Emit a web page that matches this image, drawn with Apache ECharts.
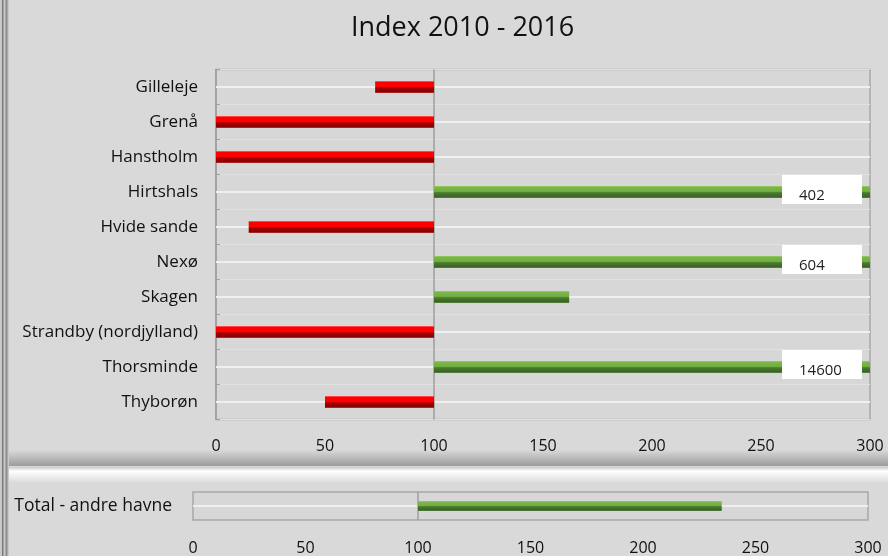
<!DOCTYPE html>
<html>
<head>
<meta charset="utf-8">
<script src="https://cdn.jsdelivr.net/npm/echarts@6/dist/echarts.min.js"></script>
<style>
  html, body { margin: 0; padding: 0; background: #d9d9d9; }
  #chart { width: 888px; height: 556px; }
</style>
</head>
<body>
<div id="chart"></div>
<script>
// havne og index 2010 - 2016 (100 = 2010)
const havne = ['Gilleleje', 'Grenå', 'Hanstholm', 'Hirtshals', 'Hvide sande',
  'Nexø', 'Skagen', 'Strandby (nordjylland)', 'Thorsminde', 'Thyborøn'];
const indexValues = [73, 0, 0, 402, 15, 604, 162, 0, 14600, 50];
const totalLabel = ['Total - andre havne'];
const totalValues = [235];
const xTickLabels = ['0', '50', '100', '150', '200', '250', '300'];

const FONT = '"Open Sans", sans-serif';
const AXIS_MAX = 300;
const BASE = 100;

const red = {
  type: 'linear', x: 0, y: 0, x2: 0, y2: 1,
  colorStops: [
    { offset: 0, color: '#ff6a6a' }, { offset: 0.12, color: '#ff0000' },
    { offset: 0.5, color: '#ff0000' }, { offset: 0.56, color: '#a30000' },
    { offset: 0.9, color: '#8c0000' }, { offset: 1, color: '#b84040' }
  ]
};
const green = {
  type: 'linear', x: 0, y: 0, x2: 0, y2: 1,
  colorStops: [
    { offset: 0, color: '#98d068' }, { offset: 0.12, color: '#7ab648' },
    { offset: 0.45, color: '#72ae42' }, { offset: 0.56, color: '#4b7b2f' },
    { offset: 0.9, color: '#3b6224' }, { offset: 1, color: '#5f8c45' }
  ]
};

// values are shifted so the category axis can sit on 100
function toBar(v) {
  const shown = Math.min(v, AXIS_MAX) - BASE;
  const item = { value: shown, itemStyle: { color: v < BASE ? red : green } };
  if (v > AXIS_MAX) {
    // bar is cut at 300, the real index goes in a white box
    item.label = {
      show: true,
      position: ['100%', '50%'],
      align: 'left',
      verticalAlign: 'middle',
      offset: [-88, -2.5],
      formatter: `{g| }\n{t|${v}}`,
      backgroundColor: '#ffffff',
      width: 46,
      padding: [0, 17, 0, 17],
      rich: {
        g: { fontSize: 8, lineHeight: 12, height: 12 },
        t: { fontFamily: 'Open Sans', fontSize: 15, lineHeight: 17, color: '#222' }
      }
    };
  }
  return item;
}

const valueAxis = (gridIndex, margin) => ({
  type: 'value',
  gridIndex,
  min: -BASE,
  max: AXIS_MAX - BASE,
  interval: 50,
  axisLine: { show: false },
  axisTick: { show: false },
  splitLine: { show: false },
  axisLabel: {
    margin,
    color: '#111',
    fontFamily: FONT,
    fontSize: 16,
    formatter: (v) => xTickLabels[(v + BASE) / 50]
  }
});

const guideLines = (names) => ({
  silent: true,
  z: 1,
  symbol: 'none',
  label: { show: false },
  lineStyle: { color: '#efefef', width: 2, type: 'solid' },
  data: names.map((n) => ({ yAxis: n })).concat([
    { xAxis: 0, lineStyle: { color: '#9e9e9e', width: 1.5 } }
  ])
});

const chart = echarts.init(document.getElementById('chart'));
chart.setOption({
  backgroundColor: '#d9d9d9',
  animation: false,
  title: {
    text: 'Index 2010 - 2016',
    left: 346,
    top: 10,
    textStyle: { fontFamily: FONT, fontSize: 27, fontWeight: 'normal', color: '#111' }
  },
  graphic: [
    // left frame
    { type: 'rect', shape: { x: 0, y: 0, width: 9, height: 556 }, style: { fill: '#c8c8c8' }, silent: true },
    { type: 'rect', shape: { x: 2, y: 0, width: 1.5, height: 556 }, style: { fill: '#7a7a7a' }, silent: true },
    { type: 'rect', shape: { x: 5.5, y: 0, width: 2, height: 556 }, style: { fill: '#8c8c8c' }, silent: true },
    // shadow under upper panel
    {
      type: 'rect', shape: { x: 9, y: 450, width: 879, height: 16 }, silent: true,
      style: { fill: { type: 'linear', x: 0, y: 0, x2: 0, y2: 1,
        colorStops: [{ offset: 0, color: '#d9d9d9' }, { offset: 1, color: '#9c9c9c' }] } }
    },
    // highlight on lower panel
    {
      type: 'rect', shape: { x: 9, y: 467, width: 879, height: 16 }, silent: true,
      style: { fill: { type: 'linear', x: 0, y: 0, x2: 0, y2: 1,
        colorStops: [{ offset: 0, color: '#c9c9c9' }, { offset: 0.25, color: '#ffffff' }, { offset: 1, color: '#d9d9d9' }] } }
    }
  ],
  grid: [
    { left: 216, right: 18, top: 69.5, height: 350, show: true,
      backgroundColor: '#d7d7d7', borderColor: '#a8a8a8', borderWidth: 1.5 },
    { left: 193, right: 20, top: 492, height: 30, show: true,
      backgroundColor: '#d7d7d7', borderColor: '#a8a8a8', borderWidth: 1.5 }
  ],
  xAxis: [valueAxis(0, 19), valueAxis(1, 20)],
  yAxis: [
    {
      type: 'category', gridIndex: 0, data: havne, inverse: true, position: 'left',
      axisLine: { show: false }, axisTick: { show: false },
      splitLine: { show: true, lineStyle: { color: '#e1e1e1', width: 1 } },
      axisLabel: { margin: 18, color: '#111', fontFamily: FONT, fontSize: 17 }
    },
    {
      type: 'category', gridIndex: 0, data: havne, inverse: true, position: 'left',
      axisLine: { show: true, onZero: true, lineStyle: { color: '#9e9e9e', width: 1.5 } },
      axisTick: { show: true, inside: true, length: 4, lineStyle: { color: '#a0a0a0' } },
      axisLabel: { show: false }, splitLine: { show: false }
    },
    {
      type: 'category', gridIndex: 1, data: totalLabel, position: 'left',
      axisLine: { show: false }, axisTick: { show: false },
      splitLine: { show: false },
      axisLabel: { margin: 21, color: '#111', fontFamily: FONT, fontSize: 17.5 }
    }
  ],
  series: [
    { type: 'line', xAxisIndex: 0, yAxisIndex: 0, data: [], z: 1, markLine: guideLines(havne) },
    {
      type: 'bar', xAxisIndex: 0, yAxisIndex: 0, z: 3, barWidth: 12,
      data: indexValues.map(toBar)
    },
    { type: 'line', xAxisIndex: 1, yAxisIndex: 2, data: [], z: 1, markLine: guideLines(totalLabel) },
    {
      type: 'bar', xAxisIndex: 1, yAxisIndex: 2, z: 3, barWidth: 10,
      data: totalValues.map(toBar)
    }
  ]
});
</script>
</body>
</html>
